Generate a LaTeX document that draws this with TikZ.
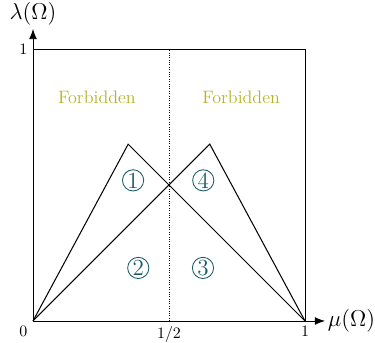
\documentclass[tikz,border=0pt]{standalone}
\usetikzlibrary{arrows.meta}
\definecolor{regteal}{RGB}{28,92,104}
\definecolor{forbol}{RGB}{182,180,32}
\tikzset{
  axisline/.style={line width=0.6pt,-{Latex[length=6.5pt,width=5pt]}},
  boxline/.style={line width=0.45pt},
  triline/.style={line width=0.65pt},
  halfline/.style={line width=0.5pt,densely dotted},
  region/.style={circle,draw=regteal,text=regteal,line width=0.55pt,inner sep=0pt,minimum size=13.3pt,font=\fontsize{14.5}{16}\selectfont},
  forbtext/.style={text=forbol,font=\fontsize{11.3}{13}\selectfont},
  ticklab/.style={font=\normalsize}
}
\begin{document}
\begin{tikzpicture}[x=6cm,y=6cm]
\useasboundingbox (-0.1213,-0.0809) rectangle (1.2574,1.1801);
\coordinate (O) at (0,0);
\coordinate (X1) at (1,0);
\coordinate (Y1) at (0,1);
\coordinate (XY) at (1,1);
\coordinate (Hb) at (0.5,0);
\coordinate (Ht) at (0.5,1);
\coordinate (P1) at (0.35,0.65);
\coordinate (P2) at (0.65,0.65);
\coordinate (Xe) at (1.074,0);
\coordinate (Ye) at (0,1.074);
% box
\draw[boxline] (Y1) -- (XY) -- (X1);
% dotted half line
\draw[halfline] (Hb) -- (Ht);
% triangles
\draw[triline] (O) -- (P1) -- (X1);
\draw[triline] (O) -- (P2) -- (X1);
% axes
\draw[axisline] (O) -- (Xe);
\draw[axisline] (O) -- (Ye);
% axis labels
\node[anchor=west,inner sep=1.5pt,font=\fontsize{13.5}{16}\selectfont] (mu) at (Xe) {$\mu(\Omega)$};
\node[anchor=south,inner sep=2pt,font=\Large] (lam) at (Ye) {$\lambda(\Omega)$};
% ticks
\node[anchor=north east,ticklab] (l0) at (O) {$0$};
\node[anchor=north,ticklab] (lh) at (Hb) {$1/2$};
\node[anchor=north,ticklab] (lx1) at (X1) {$1$};
\node[anchor=east,ticklab] (ly1) at (Y1) {$1$};
% forbidden
\node[forbtext] (f1) at (0.235,0.822) {Forbidden};
\node[forbtext] (f2) at (0.765,0.822) {Forbidden};
% regions
\node[region] (r1) at (0.368,0.517) {1};
\node[region] (r4) at (0.626,0.517) {4};
\node[region] (r2) at (0.387,0.195) {2};
\node[region] (r3) at (0.625,0.195) {3};
\end{tikzpicture}
\end{document}
